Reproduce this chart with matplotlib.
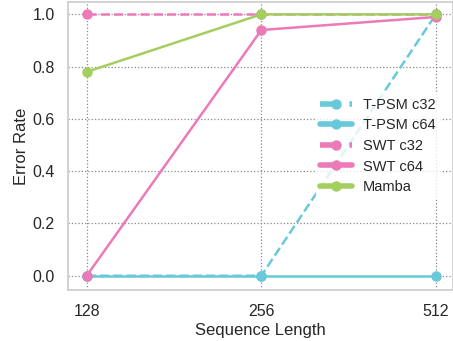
import matplotlib
matplotlib.use("Agg")
import matplotlib.pyplot as plt
import seaborn as sns

seq_labels = ["128", "256", "512"]
tpsm_c32 = [0.0, 0.0, 1.0]
tpsm_c64 = [0.0, 0.0, 0.0]
swt_c32 = [1.0, 1.0, 1.0]
swt_c64 = [0.0, 0.94, 0.99]
mamba = [0.78, 1.0, 1.0]

sns.set_theme(style="whitegrid")
plt.rcParams['font.family'] = ['Liberation Sans', 'DejaVu Sans']

cyan = "#67c9d9"
pink = "#ec7ab8"
green = "#a3cf5e"

fig, ax = plt.subplots(figsize=(4.53, 3.41), dpi=100)
x = list(range(len(seq_labels)))
kw = dict(marker="o", markersize=6.5, linewidth=1.8)
ax.plot(x, tpsm_c32, color=cyan, linestyle="--", label="T-PSM c32", **kw)
ax.plot(x, tpsm_c64, color=cyan, linestyle="-", label="T-PSM c64", **kw)
ax.plot(x, swt_c32, color=pink, linestyle="--", label="SWT c32", **kw)
ax.plot(x, swt_c64, color=pink, linestyle="-", label="SWT c64", **kw)
ax.plot(x, mamba, color=green, linestyle="-", label="Mamba", **kw)

ax.set_xticks(x)
ax.set_xticklabels(seq_labels)
ax.set_xlim(-0.105, 2.098)
ax.set_ylim(-0.054, 1.047)
ax.set_yticks([0, 0.2, 0.4, 0.6, 0.8, 1.0])
ax.set_xlabel("Sequence Length", fontsize=12, labelpad=3)
ax.set_ylabel("Error Rate", fontsize=12, labelpad=2)
ax.tick_params(labelsize=11.5, pad=4)
ax.grid(True, linestyle=":", color="#888888", linewidth=0.9)
for s in ax.spines.values():
    s.set_color("#cccccc")
    s.set_linewidth(1.2)

leg = ax.legend(loc="center right", bbox_to_anchor=(0.985, 0.5), fontsize=10.5,
                frameon=True, framealpha=0.8, edgecolor="white",
                handlelength=2.2, handletextpad=0.75, borderpad=0.3, labelspacing=0.45)
for h in leg.get_lines():
    h.set_linewidth(4)

fig.subplots_adjust(left=0.151, right=1.0, top=0.994, bottom=0.150)
fig.savefig("out.png", dpi=100)
